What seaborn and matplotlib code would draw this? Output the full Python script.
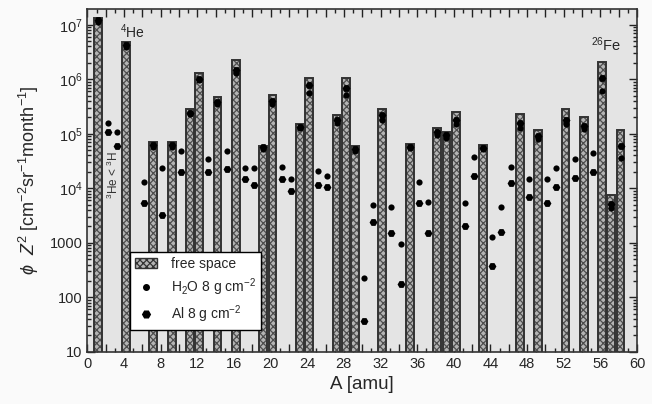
import matplotlib
matplotlib.use('Agg')
import matplotlib.pyplot as plt
import seaborn as sns
import numpy as np
import pandas as pd
from matplotlib.patches import Patch
from matplotlib.lines import Line2D
from matplotlib.ticker import MultipleLocator, FuncFormatter

# free space abundances (bars), mass number A
primary_A = [1, 4, 7, 9, 11, 12, 14, 16, 19, 20, 23, 24, 27, 28, 29, 32, 35,
             38, 39, 40, 43, 47, 49, 52, 54, 56, 57, 58]
free_space = [1.35e7, 4.9e6, 7.2e4, 7.2e4, 2.8e5, 1.3e6, 4.8e5, 2.3e6, 5.9e4,
              5.2e5, 1.5e5, 1.05e6, 2.2e5, 1.05e6, 6.0e4, 2.8e5, 6.5e4, 1.3e5,
              1.07e5, 2.5e5, 6.1e4, 2.3e5, 1.17e5, 2.8e5, 2.0e5, 2.1e6, 7.4e3,
              1.17e5]
al_primary = [1.2e7, 4.2e6, 6.2e4, 6.2e4, 2.4e5, 1.0e6, 3.8e5, 1.5e6, 5.6e4,
              4.0e5, 1.35e5, 7.9e5, 1.8e5, 6.9e5, 5.2e4, 2.2e5, 5.8e4, 1.1e5,
              9.5e4, 1.8e5, 5.4e4, 1.6e5, 9.0e4, 1.8e5, 1.4e5, 1.05e6, 5.2e3,
              6.0e4]
h2o_primary = [1.1e7, 3.9e6, 5.8e4, 5.7e4, 2.3e5, 9.5e5, 3.5e5, 1.3e6, 5.2e4,
               3.5e5, 1.3e5, 5.7e5, 1.6e5, 5.2e5, 4.8e4, 1.8e5, 5.5e4, 9.5e4,
               8.5e4, 1.5e5, 5.2e4, 1.3e5, 8.0e4, 1.5e5, 1.2e5, 6.0e5, 4.4e3,
               3.6e4]

# secondary fragments (no free space flux)
frag_A = [2, 3, 6, 8, 10, 13, 15, 17, 18, 21, 22, 25, 26, 30, 31, 33, 34, 36,
          37, 41, 42, 44, 45, 46, 48, 50, 51, 53, 55]
h2o_frag = [1.6e5, 1.1e5, 1.3e4, 2.4e4, 4.9e4, 3.5e4, 4.9e4, 2.4e4, 2.4e4,
            2.5e4, 1.45e4, 2.1e4, 1.66e4, 230, 5.0e3, 4.6e3, 960, 1.3e4, 5.6e3,
            5.4e3, 3.7e4, 1.26e3, 4.5e3, 2.5e4, 1.45e4, 1.45e4, 2.35e4, 3.5e4,
            4.4e4]
al_frag = [1.1e5, 6.0e4, 5.4e3, 3.2e3, 2.0e4, 1.95e4, 2.3e4, 1.45e4, 1.15e4,
           1.45e4, 9.1e3, 1.13e4, 1.07e4, 37, 2.4e3, 1.5e3, 175, 5.3e3, 1.5e3,
           2.0e3, 1.66e4, 380, 1.6e3, 1.24e4, 6.8e3, 5.4e3, 1.07e4, 1.55e4,
           2.0e4]

ytick_vals = [10, 100, 1000, 1e4, 1e5, 1e6, 1e7]
ytick_labels = ['10', '100', '1000', '10$^4$', '10$^5$', '10$^6$', '10$^7$']

sns.set_style('ticks')
plt.rcParams['font.family'] = ['Liberation Sans', 'DejaVu Sans']
plt.rcParams['mathtext.fontset'] = 'custom'
plt.rcParams['mathtext.rm'] = 'Liberation Sans'
plt.rcParams['mathtext.it'] = 'Liberation Sans:italic'
plt.rcParams['hatch.linewidth'] = 0.9

shift = 0.2
bar_w = 0.85

fig = plt.figure(figsize=(6.52, 4.04), dpi=100, facecolor='#fafafa')
ax = fig.add_axes([0.134, 0.129, 0.843, 0.849])
ax.set_facecolor('#e4e4e4')

xb = np.array(primary_A) + shift
ax.bar(xb, free_space, width=bar_w, bottom=1, color='#b4b4b4',
       edgecolor='#4e4e4e', hatch='xxxxx', linewidth=0, zorder=2)
ax.bar(xb, free_space, width=bar_w, bottom=1, fill=False,
       edgecolor='#333333', linewidth=1.4, zorder=3)

h2o = pd.DataFrame({'A': np.r_[primary_A, frag_A] + shift,
                    'phi': np.r_[h2o_primary, h2o_frag]})
al = pd.DataFrame({'A': np.r_[primary_A, frag_A] + shift,
                   'phi': np.r_[al_primary, al_frag]})
sns.scatterplot(data=h2o, x='A', y='phi', ax=ax, color='black', marker='o',
                s=20, linewidth=0, zorder=4)
sns.scatterplot(data=al, x='A', y='phi', ax=ax, color='black', marker='H',
                s=32, linewidth=0, zorder=4)

ax.set_yscale('log')
ax.set_ylim(10, 1.95e7)
ax.set_xlim(0, 60)
ax.set_yticks(ytick_vals)
ax.set_yticklabels(ytick_labels)
ax.xaxis.set_major_locator(MultipleLocator(2))
ax.xaxis.set_minor_locator(MultipleLocator(1))
ax.xaxis.set_major_formatter(FuncFormatter(lambda v, p: '%d' % v if int(round(v)) % 4 == 0 else ''))
ax.tick_params(which='both', direction='in', top=True, right=True,
               labelsize=10.5, color='#222222', width=1)
ax.tick_params(which='major', length=6)
ax.tick_params(which='minor', length=3)
for s in ax.spines.values():
    s.set_linewidth(1.2)
    s.set_color('#333333')

ax.set_xlabel('A [amu]', fontsize=13.5, labelpad=4)
ax.set_ylabel(r'$\phi$  $Z^2$ [cm$^{-2}$sr$^{-1}$month$^{-1}$]', fontsize=13, labelpad=6)

ax.text(3.6, 7.5e6, '$^4$He', fontsize=10, va='center', ha='left')
ax.text(55.0, 4.3e6, '$^{26}$Fe', fontsize=10.5, va='center', ha='left')
ax.text(2.85, 1.75e4, '$^3$He < $^3$H', fontsize=8.5, rotation=90,
        va='center', ha='center', color='#333333')

handles = [Patch(facecolor='#b4b4b4', edgecolor='#333333', hatch='xxxxx', linewidth=1),
           Line2D([], [], marker='o', color='black', linestyle='none', markersize=4),
           Line2D([], [], marker='H', color='black', linestyle='none', markersize=5.5)]
labels = ['free space', 'H$_2$O 8 g cm$^{-2}$', 'Al 8 g cm$^{-2}$']
leg = ax.legend(handles, labels, loc='lower left', bbox_to_anchor=(0.078, 0.064),
                borderaxespad=0, fancybox=False, framealpha=1, edgecolor='black',
                fontsize=10, labelspacing=0.4, handlelength=1.6, handletextpad=1.0,
                borderpad=0.35)
leg.get_frame().set_linewidth(1.0)
leg.set_zorder(6)

plt.savefig('out.png', dpi=100, facecolor=fig.get_facecolor())
